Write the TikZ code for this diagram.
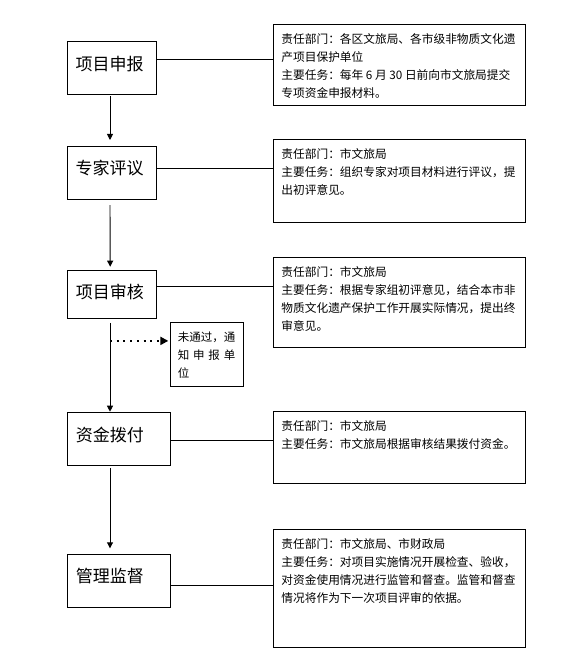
\documentclass[tikz,border=0pt]{standalone}
\usepackage{fontspec}
\setmainfont{Noto Sans CJK SC}
\usetikzlibrary{arrows.meta,calc}
\newcommand\rtext[3]{\parbox[c][#1pt][t]{#2pt}{\fontsize{11.7}{18}\selectfont\rule{0pt}{19pt}#3}}
\tikzset{
  lbox/.style={draw, line width=0.9pt, inner sep=0pt, anchor=north west, align=left,
    font=\fontsize{17}{20}\selectfont, text height=25pt},
  rbox/.style={draw, line width=0.9pt, inner sep=0pt, anchor=north west, minimum width=252pt},
  link/.style={line width=0.9pt},
  flow/.style={line width=0.9pt, -{Triangle[length=6pt,width=6pt]}},
  fail/.style={line width=2pt, dash pattern=on 2pt off 4.7pt, -{Triangle[length=8pt,width=8pt]}},
}
\begin{document}
\begin{tikzpicture}[x=1pt,y=-1pt]
\path[fill=white] (0,0) rectangle (566,671);
\useasboundingbox (0,0) rectangle (566,671);

% left column
\node[lbox, minimum width=89pt, minimum height=52.7pt, text width=71.6pt, text depth=20.4pt] (L1) at (66.5,41.3) {项目申报};
\node[lbox, minimum width=89pt, minimum height=53pt, text width=71.6pt, text depth=22.7pt] (L2) at (66.5,146.3) {专家评议};
\node[lbox, minimum width=89pt, minimum height=48.3pt, text width=71.6pt, text depth=17.4pt] (L3) at (66.7,270) {项目审核};
\node[lbox, minimum width=103.6pt, minimum height=52.7pt, text width=86.2pt, text depth=19.6pt] (L4) at (66.7,412.3) {资金拨付};
\node[lbox, minimum width=103.6pt, minimum height=52.7pt, text width=86.2pt, text depth=23pt] (L5) at (66.7,554.3) {管理监督};

% right column
\node[rbox, minimum height=81pt] (R1) at (273,24) {\rtext{81}{236}{责任部门：各区文旅局、各市级非物质文化遗\\产项目保护单位\\主要任务：每年 6 月 30 日前向市文旅局提交\\专项资金申报材料。}};
\node[rbox, minimum height=83pt] (R2) at (273,139.3) {\rtext{83}{236}{责任部门：市文旅局\\主要任务：组织专家对项目材料进行评议，提\\出初评意见。}};
\node[rbox, minimum height=90pt] (R3) at (273,257.3) {\rtext{90}{236}{责任部门：市文旅局\\主要任务：根据专家组初评意见，结合本市非\\物质文化遗产保护工作开展实际情况，提出终\\审意见。}};
\node[rbox, minimum height=71.7pt] (R4) at (273,411) {\rtext{71.7}{236}{责任部门：市文旅局\\主要任务：市文旅局根据审核结果拨付资金。}};
\node[rbox, minimum height=118pt] (R5) at (273,529.3) {\rtext{118}{236}{责任部门：市文旅局、市财政局\\主要任务：对项目实施情况开展检查、验收，\\对资金使用情况进行监管和督查。监管和督查\\情况将作为下一次项目评审的依据。}};

% rejection note
\node[rbox, minimum width=73pt, minimum height=64pt] (NB) at (170.3,322.3)
  {\parbox[c][64pt][t]{59pt}{\fontsize{11.5}{18}\selectfont\rule{0pt}{19pt}未通过，通\\\makebox[57.5pt][s]{知\hfill 申\hfill 报\hfill 单}\\位}};

% vertical flow
\draw[flow, shorten <=1.3pt, shorten >=6.3pt] ([xshift=43.5pt]L1.south west) -- ([xshift=43.5pt]L2.north west);
\draw[flow, shorten <=5pt, shorten >=3.3pt] ([xshift=43.5pt]L2.south west) -- ([xshift=43.5pt]L3.north west);
\draw[flow, shorten <=3.7pt, shorten >=0.6pt] ([xshift=43.3pt]L3.south west) -- ([xshift=43.3pt]L4.north west);
\draw[flow, shorten <=2pt, shorten >=6pt] ([xshift=43.3pt]L4.south west) -- ([xshift=43.3pt]L5.north west);

% horizontal links
\coordinate (p1) at ([yshift=8.35pt]L1.east);
\coordinate (p2) at ([yshift=4.5pt]L2.east);
\coordinate (p3) at ([yshift=8.45pt]L3.east);
\coordinate (p4) at ([yshift=-1.65pt]L4.east);
\coordinate (p5) at ([yshift=-4.65pt]L5.east);
\draw[link] (p1) -- (p1 -| R1.west);
\draw[link] (p2) -- (p2 -| R2.west);
\draw[link] (p3) -- (p3 -| R3.west);
\draw[link] (p4) -- (p4 -| R4.west);
\draw[link] (p5) -- (p5 -| R5.west);

% dotted rejection arrow
\coordinate (d0) at ([xshift=43.3pt,yshift=-21.7pt]L3.south west);
\draw[fail, shorten >=2pt] (d0) -- (d0 -| NB.west);
\end{tikzpicture}
\end{document}
